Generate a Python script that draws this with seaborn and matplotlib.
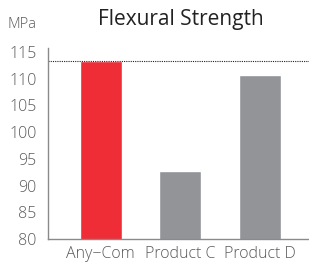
import matplotlib
matplotlib.use("Agg")
import matplotlib.pyplot as plt
import seaborn as sns
import pandas as pd

products = ["Any\u2212Com", "Product C", "Product D"]
strength = [113.3, 92.8, 110.7]
bar_colors = ["#ee2d37", "#929497", "#929497"]
y_ticks = [80, 85, 90, 95, 100, 105, 110, 115]
ref_value = 113.3

sns.set_style("white")
plt.rcParams["font.family"] = ["Open Sans", "DejaVu Sans"]
plt.rcParams["font.weight"] = "light"

df = pd.DataFrame({"product": products, "strength": strength})

fig = plt.figure(figsize=(3.09, 2.63), dpi=100)
ax = fig.add_axes([0.155, 0.091, 0.845, 0.727])

sns.barplot(data=df, x="product", y="strength", hue="product",
            palette=bar_colors, width=0.525, legend=False, ax=ax, saturation=1)

ax.set_ylim(80, 115.77)
ax.set_xlim(-0.66, 2.61)
ax.set_yticks(y_ticks)
ax.axhline(ref_value, color="#222222", linestyle=(0, (1, 1)), linewidth=0.8)

for side in ["top", "right"]:
    ax.spines[side].set_visible(False)
for side in ["left", "bottom"]:
    ax.spines[side].set_color("#8a8a8a")
    ax.spines[side].set_linewidth(1.0)

ax.tick_params(axis="both", length=0, labelsize=11.5, labelcolor="#5a5a5a")
ax.tick_params(axis="y", pad=8)
ax.tick_params(axis="x", pad=5)
ax.set_xlabel("")
ax.set_ylabel("")

fig.text(0.025, 0.905, "MPa", fontsize=10.5, color="#5a5a5a", ha="left", va="center")
fig.text(0.585, 0.925, "Flexural Strength", fontsize=15, color="#222222",
         fontweight="normal", ha="center", va="center")

fig.savefig("out.png", dpi=100)
